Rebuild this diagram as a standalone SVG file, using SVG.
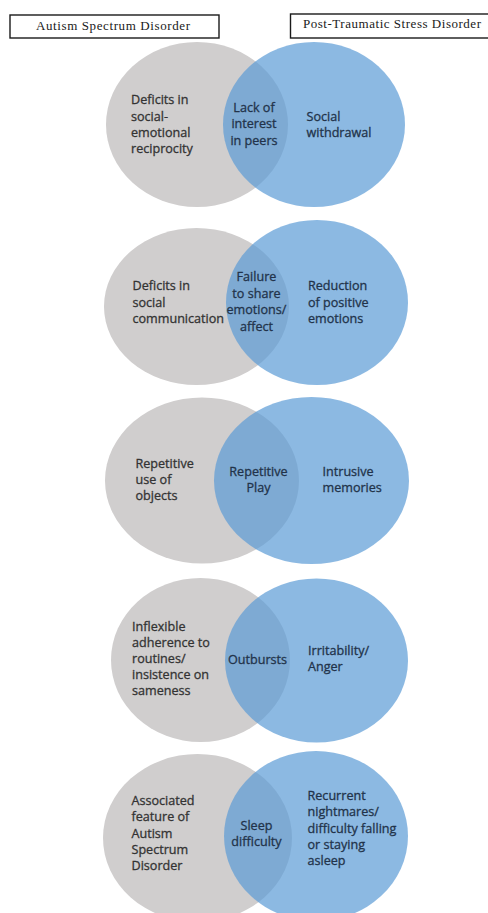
<svg xmlns="http://www.w3.org/2000/svg" width="488" height="913" viewBox="0 0 488 913">
<style>
.hdr{fill:#fff;stroke:#1a1a1a;stroke-width:1.4}
.ht{font-family:"Liberation Serif","Times New Roman",serif;font-size:13px;fill:#1a1a1a}
.gc{fill:#D0CECE}
.bc{fill:#5B9BD5;fill-opacity:0.7}
.t{font-family:"Open Sans","Noto Sans",sans-serif;font-size:12.6px;stroke-width:0.3}
.tg{fill:#333333;stroke:#333333}
.tb{fill:#22334a;stroke:#22334a}
.mid{text-anchor:middle}
</style>
<rect width="488" height="913" fill="#fff"/>
<g id="header-asd">
<rect class="hdr" x="10" y="15" width="209" height="23"/>
<text class="ht" x="36" y="30" textLength="154" lengthAdjust="spacing">Autism Spectrum Disorder</text>
</g>
<g id="header-ptsd">
<rect class="hdr" x="290.5" y="14" width="210" height="24"/>
<text class="ht" x="303" y="28" textLength="178" lengthAdjust="spacing">Post-Traumatic Stress Disorder</text>
</g>
<g id="connectors"></g>
<g id="venn1">
<ellipse class="gc" cx="197" cy="124.5" rx="91" ry="82.5"/>
<ellipse class="bc" cx="314" cy="124.5" rx="91" ry="82.5"/>
<text class="t tg"><tspan x="131" y="104">Deficits in</tspan><tspan x="131" y="120.5">social-</tspan><tspan x="131" y="137">emotional</tspan><tspan x="131" y="153">reciprocity</tspan></text>
<text class="t tb mid"><tspan x="254" y="111.5">Lack of</tspan><tspan x="254" y="128">interest</tspan><tspan x="254" y="145">in peers</tspan></text>
<text class="t tb"><tspan x="306.5" y="121">Social</tspan><tspan x="306.5" y="137">withdrawal</tspan></text>
</g>
<g id="venn2">
<ellipse class="gc" cx="196.5" cy="306.5" rx="92.5" ry="78.5"/>
<ellipse class="bc" cx="317" cy="302.5" rx="91" ry="82.5"/>
<text class="t tg"><tspan x="132.5" y="290">Deficits in</tspan><tspan x="132.5" y="306.5">social</tspan><tspan x="132.5" y="323">communication</tspan></text>
<text class="t tb mid"><tspan x="256.5" y="281">Failure</tspan><tspan x="256.5" y="297.5">to share</tspan><tspan x="256.5" y="314">emotions/</tspan><tspan x="256.5" y="331">affect</tspan></text>
<text class="t tb"><tspan x="308" y="290">Reduction</tspan><tspan x="308" y="306.5">of positive</tspan><tspan x="308" y="323">emotions</tspan></text>
</g>
<g id="venn3">
<ellipse class="gc" cx="202" cy="480.5" rx="97" ry="83"/>
<ellipse class="bc" cx="311.5" cy="480.5" rx="97.5" ry="83.5"/>
<text class="t tg"><tspan x="135.5" y="467.5">Repetitive</tspan><tspan x="135.5" y="484">use of</tspan><tspan x="135.5" y="500">objects</tspan></text>
<text class="t tb mid"><tspan x="258.5" y="476">Repetitive</tspan><tspan x="258.5" y="492">Play</tspan></text>
<text class="t tb"><tspan x="322.5" y="476">Intrusive</tspan><tspan x="322.5" y="492">memories</tspan></text>
</g>
<g id="venn4">
<ellipse class="gc" cx="200.5" cy="660" rx="89.5" ry="82"/>
<ellipse class="bc" cx="316.5" cy="660.5" rx="91.5" ry="82"/>
<text class="t tg"><tspan x="132" y="631">Inflexible</tspan><tspan x="132" y="647">adherence to</tspan><tspan x="132" y="663">routines/</tspan><tspan x="132" y="679">insistence on</tspan><tspan x="132" y="695">sameness</tspan></text>
<text class="t tb mid" x="257.5" y="663.5">Outbursts</text>
<text class="t tb"><tspan x="308" y="655">Irritability/</tspan><tspan x="308" y="671">Anger</tspan></text>
</g>
<g id="venn5">
<ellipse class="gc" cx="197.5" cy="838" rx="94.5" ry="84"/>
<ellipse class="bc" cx="316" cy="836" rx="92" ry="85"/>
<text class="t tg"><tspan x="131.5" y="805">Associated</tspan><tspan x="131.5" y="821">feature of</tspan><tspan x="131.5" y="837.5">Autism</tspan><tspan x="131.5" y="853.5">Spectrum</tspan><tspan x="131.5" y="870">Disorder</tspan></text>
<text class="t tb mid"><tspan x="256.5" y="829.5">Sleep</tspan><tspan x="256.5" y="846">difficulty</tspan></text>
<text class="t tb"><tspan x="307.5" y="799.5">Recurrent</tspan><tspan x="307.5" y="816">nightmares/</tspan><tspan x="307.5" y="832.5">difficulty falling</tspan><tspan x="307.5" y="849">or staying</tspan><tspan x="307.5" y="865">asleep</tspan></text>
</g>
</svg>
